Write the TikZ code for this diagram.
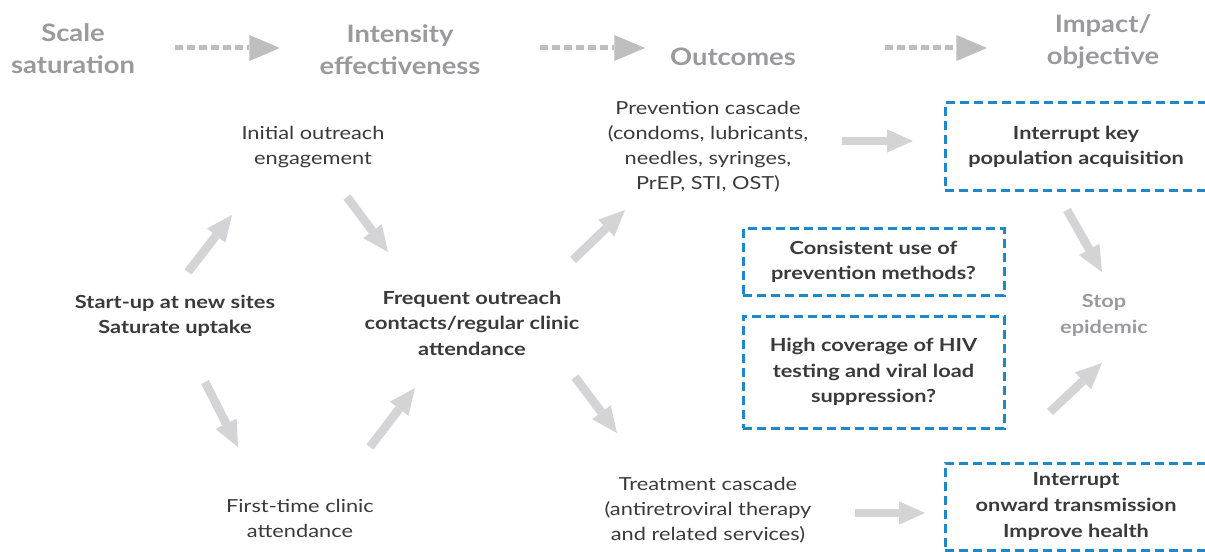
\documentclass[tikz,border=0pt]{standalone}
\usepackage{fontspec}
\setmainfont{Lato}[FakeStretch=1.21]
\newfontfamily\headfont{Lato}[FakeStretch=1.14]
\usetikzlibrary{arrows.meta}
\definecolor{hgray}{RGB}{154,154,158}
\definecolor{dgray}{RGB}{190,190,192}
\definecolor{agray}{RGB}{212,212,214}
\definecolor{dtext}{RGB}{58,58,60}
\definecolor{kblue}{RGB}{30,136,202}
\tikzset{
  head/.style={font=\headfont\fontsize{18}{24}\selectfont\bfseries, text=hgray, align=center, inner sep=0pt},
  body/.style={font=\fontsize{13.5}{18.75}\selectfont, text=dtext, align=center, inner sep=0pt},
  bodyb/.style={font=\fontsize{13.5}{19.2}\selectfont\bfseries, text=dtext, align=center, inner sep=0pt},
  grayb/.style={font=\fontsize{13.5}{19.5}\selectfont\bfseries, text=hgray, align=center, inner sep=0pt},
  kbox/.style={draw=kblue, line width=2.25pt, dash pattern=on 6.75pt off 3.75pt, font=\fontsize{13.5}{19.2}\selectfont\bfseries, text=dtext, align=center, inner sep=0pt},
  darrow/.style={draw=dgray, line width=3.75pt, dash pattern=on 6pt off 3pt, -{Triangle[width=19.5pt,length=23pt,fill=dgray,line width=0pt]}},
  sarrow/.style={draw=agray, line width=6.5pt, -{Triangle[width=17.5pt,length=19.5pt,fill=agray,line width=0pt]}},
}
\begin{document}
\begin{tikzpicture}[x=0.75pt,y=-0.75pt]
\useasboundingbox (0,0) rectangle (1205,552);
\clip (0,0) rectangle (1205,552);
% headers
\node[head] (h1) at (73,49) {Scale\\saturation};
\node[head] (h2) at (400,50) {Intensity\\effectiveness};
\node[head] (h3) at (733,57) {Outcomes};
\node[head] (h4) at (1103,42) {Impact/\\objective};
\coordinate (d1s) at (175,48); \coordinate (d1e) at (280,48);
\coordinate (d2s) at (540,48); \coordinate (d2e) at (645,48);
\coordinate (d3s) at (885,48); \coordinate (d3e) at (987,48);
\draw[darrow] (d1s) -- (d1e);
\draw[darrow] (d2s) -- (d2e);
\draw[darrow] (d3s) -- (d3e);
% text nodes
\node[body] (init) at (313,147) {Initial outreach\\engagement};
\node[body] (prev) at (708,147) {Prevention cascade\\(condoms, lubricants,\\needles, syringes,\\PrEP, STI, OST)};
\node[bodyb] (start) at (175,316) {Start-up at new sites\\Saturate uptake};
\node[bodyb] (freq) at (472,323) {Frequent outreach\\contacts/regular clinic\\attendance};
\node[body] (first) at (300,518) {First-time clinic\\attendance};
\node[body] (treat) at (708,510) {Treatment cascade\\(antiretroviral therapy\\and related services)};
\node[grayb] (stop) at (1104,315) {Stop\\epidemic};
% boxes
\node[kbox, minimum width=196.5pt, minimum height=66pt] (b1) at (1076,147) {Interrupt key\\population acquisition};
\node[kbox, minimum width=195.75pt, minimum height=49.5pt] (b2) at (873.5,262) {Consistent use of\\prevention methods?};
\node[kbox, minimum width=195.75pt, minimum height=84pt] (b3) at (873.5,372) {High coverage of HIV\\testing and viral load\\suppression?};
\node[kbox, minimum width=196.5pt, minimum height=65.25pt] (b4) at (1076,506.5) {Interrupt\\onward transmission\\Improve health};
% arrows
\coordinate (a1s) at (188,272); \coordinate (a1e) at (232,215);
\coordinate (a2s) at (347,197); \coordinate (a2e) at (388,252);
\coordinate (a3s) at (205,382); \coordinate (a3e) at (238,447);
\coordinate (a4s) at (370,447); \coordinate (a4e) at (415,388);
\coordinate (a5s) at (573,260); \coordinate (a5e) at (625,210);
\coordinate (a6s) at (575,377); \coordinate (a6e) at (617,433);
\coordinate (a7s) at (842,141); \coordinate (a7e) at (913,141);
\coordinate (a8s) at (855,513); \coordinate (a8e) at (925,513);
\coordinate (a9s) at (1067,210); \coordinate (a9e) at (1102,272);
\coordinate (a10s) at (1050,412); \coordinate (a10e) at (1102,363);
\draw[sarrow] (a1s) -- (a1e);
\draw[sarrow] (a2s) -- (a2e);
\draw[sarrow] (a3s) -- (a3e);
\draw[sarrow] (a4s) -- (a4e);
\draw[sarrow] (a5s) -- (a5e);
\draw[sarrow] (a6s) -- (a6e);
\draw[sarrow] (a7s) -- (a7e);
\draw[sarrow] (a8s) -- (a8e);
\draw[sarrow] (a9s) -- (a9e);
\draw[sarrow] (a10s) -- (a10e);
\end{tikzpicture}
\end{document}
